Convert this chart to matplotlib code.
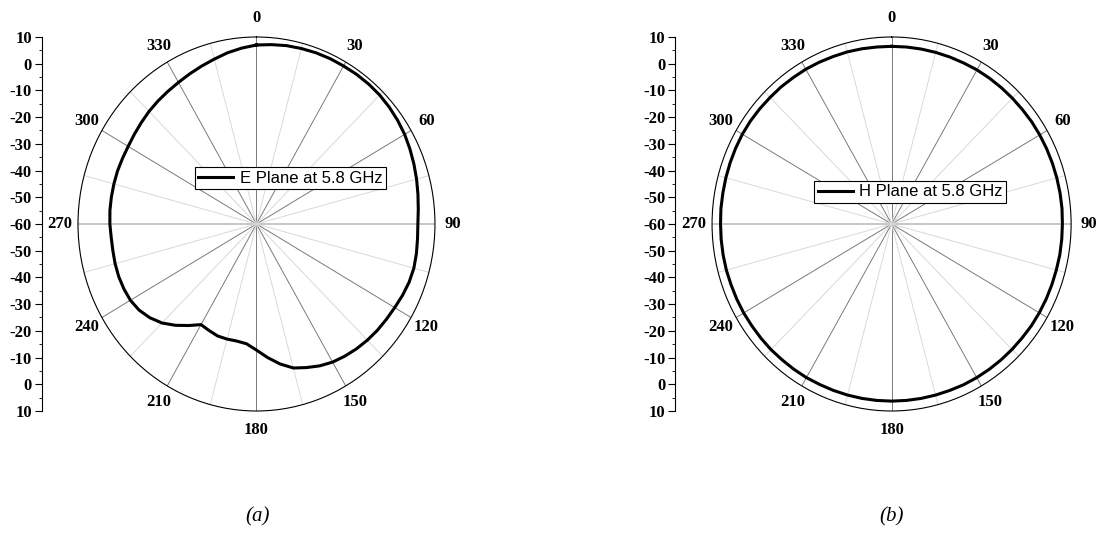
import numpy as np
import matplotlib
matplotlib.use("Agg")
import matplotlib.pyplot as plt
from matplotlib.ticker import FixedLocator, MultipleLocator

# E plane pattern (dB), read every 5 degrees
angles_e = list(range(0, 360, 5))
gain_e = [7.0, 7.4, 7.8, 8.0, 8.2, 8.3, 8.3, 8.4, 8.4, 8.3, 8.0, 7.6,
          7.1, 6.4, 5.7, 5.0, 4.3, 3.7, 3.3, 3.4, 3.7, 3.9, 3.7, 3.2,
          2.6, 2.2, 1.9, 1.5, 1.0, 0.4, -0.3, -1.4, -2.8, -4.2, -6.8, -9.8,
          -12.8, -15.0, -15.5, -15.4, -15.4, -16.0, -16.5, -13.6, -10.5, -7.6, -5.4, -3.8,
          -2.9, -2.6, -2.5, -2.6, -2.8, -2.8, -2.5, -2.3, -2.2, -2.1, -2.0, -2.0,
          -1.9, -1.5, -1.0, -0.4, 0.1, 0.6, 1.2, 2.0, 2.9, 3.9, 5.1, 6.1]

# H plane pattern (dB), read every 5 degrees
angles_h = list(range(0, 360, 5))
gain_h = [6.5, 6.5, 6.5, 6.5, 6.5, 6.5, 6.6, 6.6, 6.6, 6.6, 6.6, 6.7,
          6.7, 6.7, 6.7, 6.7, 6.7, 6.7, 6.6, 6.6, 6.6, 6.5, 6.5, 6.5,
          6.5, 6.5, 6.4, 6.4, 6.4, 6.4, 6.4, 6.4, 6.3, 6.3, 6.3, 6.3,
          6.3, 6.3, 6.3, 6.3, 6.3, 6.3, 6.4, 6.4, 6.4, 6.5, 6.5, 6.5,
          6.6, 6.6, 6.6, 6.7, 6.7, 6.7, 6.7, 6.8, 6.8, 6.9, 7.0, 7.1,
          7.2, 7.2, 7.1, 7.0, 7.0, 6.9, 6.9, 6.8, 6.7, 6.7, 6.6, 6.5]

theta_labels = [str(a) for a in range(0, 360, 30)]
r_ticks = list(range(-70, 71, 10))
r_labels = [str(abs(v) - 60) for v in r_ticks]

serif = "Liberation Serif"
sans = "Liberation Sans"

fig = plt.figure(figsize=(10.97, 5.33), dpi=100)


def polar_panel(rect, spine_x, angles, gain, label, leg_center):
    ax = fig.add_axes(rect, projection="polar")
    ax.set_aspect("auto")
    ax.set_theta_zero_location("N")
    ax.set_theta_direction(-1)
    ax.set_ylim(-60, 10)
    ax.set_yticks([])

    ax.xaxis.set_major_locator(FixedLocator(np.radians(np.arange(0, 360, 30))))
    ax.xaxis.set_minor_locator(FixedLocator(np.radians(np.arange(15, 360, 30))))
    ax.set_xticklabels([])
    ax.tick_params(axis="x", which="major", direction="in", length=5, width=0.8, color="k")
    ax.tick_params(axis="x", which="minor", direction="in", length=3, width=0.6, color="k")
    ax.grid(which="major", axis="x", color="#7a7a7a", lw=0.7)
    ax.grid(which="minor", axis="x", color="#d9d9d9", lw=0.7)
    ax.spines["polar"].set_linewidth(0.8)
    glines = ax.xaxis.get_gridlines()
    for i in (3, 9):
        glines[i].set_color("#bdbdbd")
        glines[i].set_linewidth(1.2)

    for a, t in zip(range(0, 360, 30), theta_labels):
        ax.text(np.radians(a), 17, t, ha="center", va="center",
                fontfamily=serif, fontweight="bold", fontsize=12, clip_on=False)

    th = np.radians(angles + [angles[0]])
    r = gain + [gain[0]]
    ax.plot(th, r, color="k", lw=2.2, label=label)

    leg = ax.legend(loc="center", bbox_to_anchor=leg_center,
                    bbox_transform=fig.transFigure, fancybox=False,
                    edgecolor="k", framealpha=1, handlelength=2.1,
                    borderpad=0.2, handletextpad=0.4, borderaxespad=0,
                    prop={"family": sans, "size": 12})
    leg.get_frame().set_linewidth(0.8)

    # linear dB scale on the left
    axl = fig.add_axes([spine_x, rect[1], 0.0005, rect[3]])
    axl.set_ylim(-70, 70)
    axl.set_yticks(r_ticks)
    axl.set_yticklabels(r_labels, fontfamily=serif, fontweight="bold", fontsize=12)
    axl.yaxis.set_minor_locator(MultipleLocator(5))
    axl.tick_params(axis="y", which="major", length=5, width=0.8, pad=2)
    axl.tick_params(axis="y", which="minor", length=2.5, width=0.6)
    axl.set_xticks([])
    for s in ["top", "right", "bottom"]:
        axl.spines[s].set_visible(False)
    axl.spines["left"].set_linewidth(0.8)
    axl.patch.set_visible(False)
    return ax


polar_panel([0.0711, 0.2289, 0.3254, 0.7017], 0.0380,
            angles_e, gain_e, "E Plane at 5.8 GHz", (0.2644, 0.666))
polar_panel([0.6491, 0.2289, 0.3273, 0.7017], 0.6153,
            angles_h, gain_h, "H Plane at 5.8 GHz", (0.8299, 0.6398))

fig.text(0.2343, 0.030, "(a)", ha="center", va="center",
         fontfamily=serif, fontstyle="italic", fontsize=15)
fig.text(0.8125, 0.030, "(b)", ha="center", va="center",
         fontfamily=serif, fontstyle="italic", fontsize=15)

fig.savefig("out.png", dpi=100)
